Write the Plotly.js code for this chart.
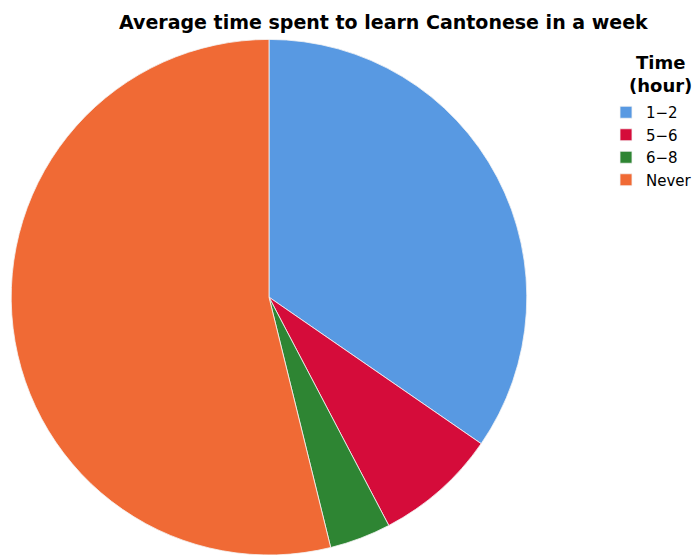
<!DOCTYPE html>
<html>
<head>
<meta charset="utf-8">
<script src="https://cdn.plot.ly/plotly-3.0.1.min.js"></script>
<style>html,body{margin:0;padding:0;background:#fff;}#chart{width:697px;height:555px;}</style>
</head>
<body>
<div id="chart"></div>
<script>
var labels = ["1\u22122", "5\u22126", "6\u22128", "Never"];
var counts = [9, 2, 1, 14];
var colors = ["#5899E2", "#D50C3A", "#2E8533", "#F06A35"];
var legendTitle = "<b>Time</b><br><b>(hour)</b>";

var trace = {
  type: "pie",
  labels: labels,
  values: counts,
  sort: false,
  direction: "clockwise",
  rotation: 0,
  textinfo: "none",
  hoverinfo: "label+value+percent",
  marker: {colors: colors, line: {color: "#f4f4f4", width: 0.8}},
  domain: {x: [11/697, 527/697], y: [0, 0.929]}
};

var layout = {
  width: 697, height: 555,
  margin: {l: 0, r: 0, t: 0, b: 0, autoexpand: false},
  paper_bgcolor: "#ffffff",
  font: {family: "DejaVu Sans, sans-serif", color: "#000"},
  title: {
    text: "<b>Average time spent to learn Cantonese in a week</b>",
    font: {size: 19, color: "#000", family: "DejaVu Sans, sans-serif"},
    x: 0.55, xanchor: "center", y: 0.96, yanchor: "middle"
  },
  showlegend: true,
  legend: {
    x: 1, xanchor: "right", y: 1 - 96/555, yanchor: "top",
    font: {size: 15, color: "#000"},
    itemwidth: 30, tracegroupgap: 0
  },
  annotations: [{
    text: legendTitle, showarrow: false, xref: "paper", yref: "paper",
    x: 0.948, xanchor: "center", y: 1 - 50/555, yanchor: "top",
    align: "center", font: {size: 18, color: "#000", family: "DejaVu Sans, sans-serif"}
  }]
};

Plotly.newPlot("chart", [trace], layout, {displayModeBar: false, staticPlot: true});
</script>
</body>
</html>
